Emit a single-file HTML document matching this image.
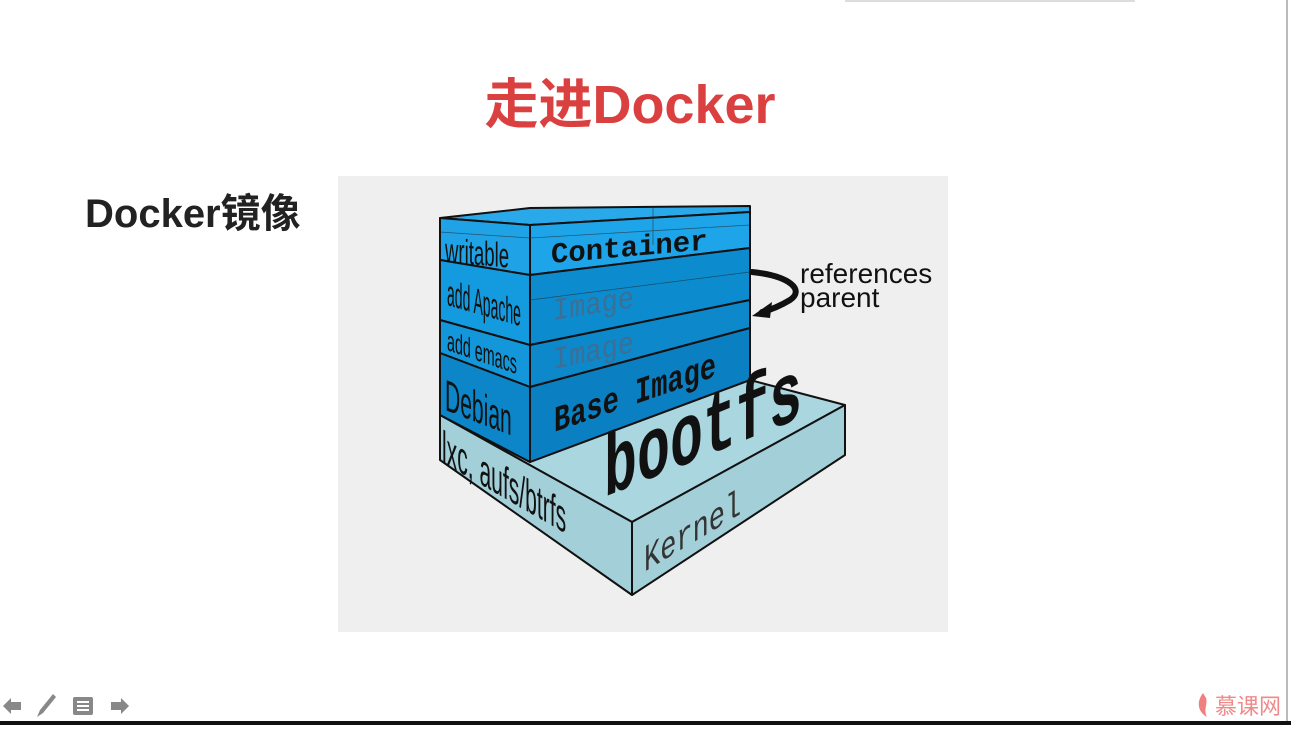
<!DOCTYPE html>
<html><head><meta charset="utf-8"><style>
html,body{margin:0;padding:0;background:#fff;}
body{width:1291px;height:725px;overflow:hidden;position:relative;font-family:"Liberation Sans","Noto Sans CJK SC",sans-serif;}
</style></head><body>
<svg width="1291" height="725" viewBox="0 0 1291 725" xmlns="http://www.w3.org/2000/svg">
<rect x="0" y="0" width="1291" height="725" fill="#fff"/>
<rect x="845" y="0" width="290" height="2" fill="#ddd"/>
<rect x="1286" y="0" width="2" height="722" fill="#bbb"/>
<rect x="0" y="721" width="1291" height="4" fill="#111"/>
<text x="630" y="123" text-anchor="middle" font-size="54" font-weight="bold" fill="#d9403f" font-family="Liberation Sans, Noto Sans CJK SC, sans-serif">走进Docker</text>
<text x="85" y="227" font-size="40" font-weight="bold" fill="#222" font-family="Liberation Sans, Noto Sans CJK SC, sans-serif">Docker镜像</text>
<rect x="338" y="176" width="610" height="456" fill="#efefef"/>
<g stroke="#111" stroke-width="2" stroke-linejoin="round">
<polygon points="530,462 750,380 845,405 632,522 440,415" fill="#a9d6df"/>
<polygon points="440,415 632,522 632,595 440,460" fill="#a3cfd8"/>
<polygon points="632,522 845,405 845,455 632,595" fill="#a3cfd8"/>
<polygon points="440,218 530,208 750,206 750,212 530,225" fill="#2aa9ea"/>
<polygon points="440,218 530,225 530,275 440,260" fill="#1fa3e6"/>
<polygon points="440,260 530,275 530,345 440,320" fill="#149ade"/>
<polygon points="440,320 530,345 530,387 440,353" fill="#1396da"/>
<polygon points="440,353 530,387 530,462 440,415" fill="#0c86c9"/>
<polygon points="530,225 750,212 750,248 530,275" fill="#1ea5e9"/>
<polygon points="530,275 750,248 750,300 530,345" fill="#0c8ccf"/>
<polygon points="530,345 750,300 750,328 530,387" fill="#0c88cb"/>
<polygon points="530,387 750,328 750,380 530,462" fill="#0a7fc1"/>
</g>
<g stroke="#222" stroke-width="0.8" fill="none" opacity="0.6">
<line x1="440" y1="232" x2="530" y2="238"/><line x1="530" y1="238" x2="750" y2="225"/>
<line x1="530" y1="300" x2="750" y2="272"/>
<line x1="653" y1="208" x2="653" y2="245"/>
</g>
<g font-family="Liberation Sans Narrow, Liberation Sans, sans-serif" fill="#111">
<text transform="translate(445,262) skewY(5) scale(0.62,1.15)" font-size="30">writable</text>
<text transform="translate(447,305) skewY(16) scale(0.5,1.3)" font-size="28">add Apache</text>
<text transform="translate(447,350) skewY(19) scale(0.55,1.1)" font-size="26">add emacs</text>
<text transform="translate(445,410) skewY(21) scale(0.62,1.3)" font-size="34">Debian</text>
<text transform="translate(442,462) skewY(30) scale(0.62,1.35)" font-size="34">lxc, aufs/btrfs</text>
</g>
<g font-family="Liberation Mono, monospace">
<text transform="translate(551,263) skewY(-5)" font-size="29" font-weight="bold" fill="#111">Container</text>
<text transform="translate(553,320) skewY(-9) scale(1,1.15)" font-size="27" fill="#3d6f94">Image</text>
<text transform="translate(553,369) skewY(-12) scale(1,1.15)" font-size="27" fill="#3d6f94">Image</text>
<text transform="translate(554,432) skewY(-19) scale(1,1.35)" font-size="27" font-weight="bold" fill="#111">Base Image</text>
<text transform="translate(604,497) skewY(-22) scale(1,1.6)" font-size="55" font-weight="bold" fill="#111">bootfs</text>
<text transform="translate(644,572) skewY(-31) scale(1,1.4)" font-size="27" fill="#333">Kernel</text>
</g>
<path d="M752,272 C790,276 805,290 790,300 C780,306 770,310 762,312" stroke="#111" stroke-width="6" fill="none" stroke-linecap="round"/>
<polygon points="752,316 772,302 770,318" fill="#111"/>
<text x="800" y="283" font-size="28" fill="#111">references</text>
<text x="800" y="307" font-size="28" fill="#111">parent</text>
<g fill="#888">
<polygon points="3,706 11,698 11,702 21,702 21,710 11,710 11,714"/>
<polygon points="37,717 40,710 53,694 56,697 43,713"/>
<rect x="73" y="697" width="20" height="18" rx="2"/>
<polygon points="129,706 121,698 121,702 111,702 111,710 121,710 121,714"/>
</g>
<g fill="#fff"><rect x="77" y="701" width="12" height="2"/><rect x="77" y="705" width="12" height="2"/><rect x="77" y="709" width="12" height="2"/></g>
<path d="M1203,693 C1196,702 1198,712 1207,717 C1203,710 1208,704 1206,698 Z" fill="#f08080"/>
<text x="1215" y="714" font-size="22" fill="#f08a8a" font-family="Noto Sans CJK SC, sans-serif">慕课网</text>
</svg>
</body></html>
